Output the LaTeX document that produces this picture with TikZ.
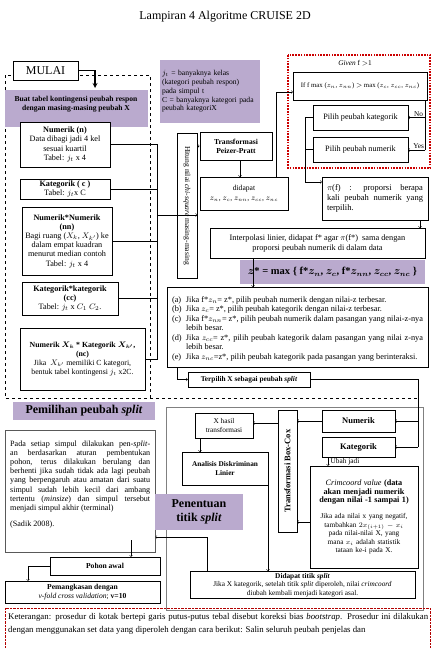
\documentclass[tikz,border=0pt]{standalone}
\usepackage{amsmath}
\usepackage{fontspec}
\setmainfont{Liberation Serif}
\usepackage{tikz}
\usetikzlibrary{arrows,calc}

\definecolor{ungu}{RGB}{186,170,206}
\newcommand{\kecil}{\fontsize{7.3}{8.4}\selectfont}
\newcommand{\sedang}{\fontsize{7.6}{8.8}\selectfont}
\newcommand{\kiri}{\fontsize{8.2}{9.2}\selectfont}
\newcommand{\besar}{\fontsize{12}{13.5}\selectfont}
\newcommand{\butir}[2]{\par\noindent\hangindent=14pt\hangafter=1\makebox[14pt][l]{#1}#2}
\hyphenpenalty=10000

\tikzset{
 kotak/.style={draw, fill=white, align=center, inner sep=1pt, font=\kecil},
 kotaktebal/.style={kotak, line width=1pt},
 panah/.style={->, >=to, thin},
 garis/.style={thin}
}

\begin{document}
\begin{tikzpicture}[x=1pt,y=-1pt]
\useasboundingbox (0,0) rectangle (432,648);
\fill[white] (0,0) rectangle (432,648);

\node[font=\besar] (judul) at (225,17) {Lampiran 4 Algoritme CRUISE 2D};

% bagian pemilihan peubah split
\draw[dashed, line width=0.7pt] (5,75) rectangle (150,398);
\draw[dashed, line width=0.7pt] (150,398) -- (418,398);
\fill[ungu] (5,90) rectangle (148,127);
\node[font=\sedang\bfseries, align=center] (buat) at (76,104) {Buat tabel kontingensi peubah respon\\dengan masing-masing peubah X};
\node[kotak, minimum width=65pt, minimum height=19pt, font=\besar] (mulai) at (45.5,70.5) {MULAI};
\draw[line width=1.2pt, ->, >=stealth] (mulai.east) -- (95,70.5) -- (95,88);

\node[kotak, minimum width=90pt, minimum height=45pt, font=\kiri] (n) at (65,144.5) {\textbf{Numerik (n)}\\Data dibagi jadi 4 kel\\sesuai kuartil\\Tabel: $j_t$ x 4};
\node[kotak, minimum width=90pt, minimum height=20pt, font=\kiri] (c) at (65,189) {\textbf{Kategorik ( c )}\\Tabel: $j_t$x C};
\node[kotak, minimum width=90pt, minimum height=68pt, font=\kiri] (nn) at (67,241) {\textbf{Numerik*Numerik}\\\textbf{(nn)}\\Bagi ruang ($X_{k}$, $X_{k'}$) ke\\dalam empat kuadran\\menurut median contoh\\Tabel: $j_t$ x 4};
\node[kotak, minimum width=96pt, minimum height=33pt, font=\kiri] (cc) at (70,298.5) {\textbf{Kategorik*kategorik}\\\textbf{(cc)}\\Tabel: $j_t$ x $C_1$ $C_2$.};
\node[kotak, minimum width=125pt, minimum height=62pt, font=\fontsize{7.8}{9}\selectfont] (nc) at (82.5,359) {\textbf{Numerik $\boldsymbol{X_k}$ * Kategorik $\boldsymbol{X_{k'}}$,}\\\textbf{(nc)}\\Jika \ $X_{k'}$ memiliki C kategori,\\bentuk tabel kontingensi $j_t$ x2C.};

\node[fill=ungu, minimum width=100pt, minimum height=63pt, align=left, font=\sedang, text width=96pt, inner sep=2pt] (info) at (210,91.5) {$j_t$ = banyaknya kelas\\(kategori peubah respon)\\pada simpul t\\C = banyaknya kategori pada\\peubah kategoriX};

\node[kotak, rotate=-90, minimum width=145pt, minimum height=20pt, font=\sedang] (hitung) at (187,205.5) {Hitung nilai \textit{chi-square} masing-masing};

% bus dari tabel kontingensi
\draw[garis] (n.east |- 0,144) -- (157,144) -- (157,359) -- (nc.east |- 0,359);
\draw[garis] (c.east) -- (157,189);
\draw[garis] (nn.east) -- (157,241);
\draw[garis] (cc.east) -- (157,298.5);
\draw[panah] (157,215) -- (hitung.north |- 0,215);

\node[kotaktebal, minimum width=72pt, minimum height=28pt, font=\sedang\bfseries] (pp) at (236,146) {Transformasi\\Peizer-Pratt};
\draw[panah] (hitung.north |- 0,146) -- (pp.west);
\node[kotak, minimum width=88pt, minimum height=33pt, font=\sedang] (dapat) at (244,193.5) {didapat\\[2pt]$z_{n}$, $z_{c}$, $z_{nn}$, $z_{cc}$, $z_{nc}$};
\draw[panah] (pp.south -| 240,0) -- (240,177);

% kotak bias bootstrap
\draw[red!80!black, line width=1.6pt, dash pattern=on 1.6pt off 1.2pt] (288,55) rectangle (430,168);
\node[font=\kecil] (given) at (355,63) {\textit{Given} f $>$1};
\node[kotak, minimum width=134pt, minimum height=28pt, font=\fontsize{6.8}{8}\selectfont] (jika) at (360,86) {If f max ($z_n$, $z_{nn}$) $>$ max ($z_c$, $z_{cc}$, $z_{nc}$)};
\node[kotak, minimum width=95pt, minimum height=25pt, font=\kiri] (pk) at (360.5,117.5) {Pilih peubah kategorik};
\node[kotak, minimum width=95pt, minimum height=25pt, font=\kiri] (pn) at (360.5,149.5) {Pilih peubah numerik};
\draw[garis] (276,177) -- (276,92);
\draw[panah] (276,92) -- (jika.west |- 0,92);
\draw[garis] (425,100) -- (425,150);
\draw[panah] (425,117.5) -- node[above, font=\kecil, xshift=2pt, inner sep=1pt] {No} (pk.east);
\draw[panah] (425,150) -- node[above, font=\kecil, xshift=2pt, inner sep=1pt] {Yes} (pn.east |- 0,150);

\node[kotak, minimum width=106pt, minimum height=43pt, text width=96pt, align=justify, font=\fontsize{8.5}{9.8}\selectfont] (pi) at (375,198.5) {$\pi$(f) \ : \ proporsi \ berapa\linebreak kali peubah numerik yang\linebreak terpilih.};
\draw[garis] (pk.west) -- (305,117.5) -- (305,182);
\draw[garis] (pn.west) -- (305,149.5);
\draw[panah] (305,182) -- (pi.west |- 0,182);

\node[kotak, minimum width=215pt, minimum height=30pt, font=\fontsize{8.3}{10}\selectfont] (interp) at (317.5,243) {Interpolasi linier, didapat f* agar $\pi$(f*) \ sama dengan\\proporsi peubah numerik di dalam data};
\draw[panah] (420,220) -- (420,228);

\node[fill=ungu, minimum width=185pt, minimum height=24pt, font=\fontsize{10.5}{11.5}\selectfont\bfseries] (zbintang) at (332.5,272) {$\boldsymbol{z}$* = max \{ f*$\boldsymbol{z_n}$, $\boldsymbol{z_c}$, f*$\boldsymbol{z_{nn}}$, $\boldsymbol{z_{cc}}$, $\boldsymbol{z_{nc}}$ \}};

\node[kotak, minimum width=261pt, minimum height=80pt, text width=251pt, align=justify, inner sep=3pt, font=\fontsize{8.3}{9.5}\selectfont] (aturan) at (297.5,327) {%
\butir{(a)}{Jika f*$z_n$= z*, pilih peubah numerik dengan nilai-z terbesar.}
\butir{(b)}{Jika $z_c$= z*, pilih peubah kategorik dengan nilai-z terbesar.}
\butir{(c)}{Jika f*$z_{nn}$= z*, pilih peubah numerik dalam pasangan yang nilai-z-nya\linebreak lebih besar.}
\butir{(d)}{Jika $z_{cc}$= z*, pilih peubah kategorik dalam pasangan yang nilai z-nya\linebreak lebih besar.}
\butir{(e)}{Jika $z_{nc}$=z*, pilih peubah kategorik pada pasangan yang berinteraksi.}\par\vspace{8pt}};
\draw[panah] (253,258) -- (253,287);

\node[kotak, minimum width=122pt, minimum height=15pt, font=\kecil\bfseries] (terpilih) at (249,379.5) {Terpilih X sebagai peubah \textit{split}};
\draw[garis] (177,367) -- (177,379.5);
\draw[panah] (177,379.5) -- (terpilih.west);

% bagian penentuan titik split
\fill[ungu] (13,402) rectangle (155,420);
\node[font=\besar\bfseries] (judulpilih) at (84,411) {Pemilihan peubah \textit{split}};
\draw[gray] (166,407) rectangle (423,610);

\node[kotak, draw=gray!70!black, minimum width=150pt, minimum height=122pt, text width=140pt, align=justify, anchor=north west, inner sep=5pt, font=\fontsize{8.1}{9.2}\selectfont] (pada) at (5,430) {Pada setiap simpul dilakukan pen-\textit{split}-\linebreak an berdasarkan aturan pembentukan\linebreak pohon, terus dilakukan berulang dan\linebreak berhenti jika sudah tidak ada lagi peubah\linebreak yang berpengaruh atau amatan dari suatu\linebreak simpul sudah lebih kecil dari ambang\linebreak tertentu (\textit{minsize}) dan simpul tersebut\linebreak menjadi simpul akhir (terminal)\\[7pt](Sadik 2008).\\[6pt]\mbox{}};

\node[kotak, minimum width=58pt, minimum height=25pt] (xhasil) at (224,425.5) {X hasil\\transformasi};
\node[kotak, minimum width=86pt, minimum height=33pt, font=\kecil\bfseries] (adl) at (225,468.5) {Analisis Diskriminan\\Linier};
\node[kotak, rotate=90, minimum width=122pt, minimum height=19pt, font=\fontsize{8.5}{10}\selectfont\bfseries] (boxcox) at (287.5,471) {Transformasi Box-Cox};
\node[kotak, minimum width=73pt, minimum height=22pt, font=\fontsize{8.5}{10}\selectfont\bfseries] (numr) at (358.5,421) {Numerik};
\node[kotak, minimum width=73pt, minimum height=20pt, font=\fontsize{8.5}{10}\selectfont\bfseries] (katr) at (358.5,447) {Kategorik};
\node[font=\kecil, inner sep=1pt] (ubah) at (345,461.5) {Ubah jadi};
\node[kotak, minimum width=108pt, minimum height=102pt, text width=102pt] (crim) at (364,517) {{\fontsize{8.2}{9.6}\selectfont\textit{Crimcoord value} \textbf{(data akan menjadi numerik dengan nilai -1 sampai 1)}}\\[8pt]Jika ada nilai x yang negatif, tambahkan $2x_{(i+1)} - x_i$ pada nilai-nilai X, yang mana $x_i$ adalah statistik tataan ke-i pada X.};

\draw[garis] (terpilih.east) -- (418,379.5) -- (418,447);
\draw[panah] (418,421) -- (numr.east);
\draw[panah] (418,447) -- (katr.east);
\draw[panah] (numr.west) -- (boxcox.south |- 0,421);
\draw[panah] (boxcox.north |- 0,423) -- (xhasil.east |- 0,423);
\draw[panah] (200,438) -- (200,452);
\draw[panah] (328,457) -- (crim.north -| 328,0);
\draw[panah] (crim.west |- 0,522) -- (boxcox.south |- 0,522);

\node[fill=ungu, minimum width=88pt, minimum height=36pt, font=\besar\bfseries, align=center] (penentuan) at (199,512) {Penentuan\\titik \textit{split}};

\node[kotaktebal, minimum width=225pt, minimum height=27pt] (titik) at (302.5,585) {\textbf{Didapat titik \textit{split}}\\Jika X kategorik, setelah titik \textit{split} diperoleh, nilai \textit{crimcoord}\\diubah kembali menjadi kategori asal.};
\draw[panah] (268,485) -- (titik.north -| 268,0);
\draw[garis] (titik.north -| 207,0) -- (207,537);
\draw[panah] (207,537) -- (pada.east |- 0,537);

\node[kotak, minimum width=110pt, minimum height=18pt, font=\sedang\bfseries] (pohon) at (105,566) {Pohon awal};
\draw[panah] (131,540) -- (pohon.north -| 131,0);
\node[kotak, minimum width=155pt, minimum height=22pt, font=\sedang] (pangkas) at (82.5,592) {\textbf{Pemangkasan dengan}\\\textit{v-fold cross validation}; \textbf{v=10}};
\draw[garis] (pohon.west) -- (28,566);
\draw[panah] (28,566) -- (pangkas.north -| 28,0);

\draw[red!70!black, densely dotted] (5,608) rectangle (430,670);
\node[anchor=north west, text width=420pt, align=justify, font=\fontsize{8.8}{13.5}\selectfont, inner sep=2pt] (ket) at (6,611) {Keterangan: prosedur di kotak bertepi garis putus-putus tebal disebut koreksi bias \textit{bootstrap}. Prosedur ini dilakukan dengan menggunakan set data yang diperoleh dengan cara berikut: Salin seluruh peubah penjelas dan};
\end{tikzpicture}
\end{document}
